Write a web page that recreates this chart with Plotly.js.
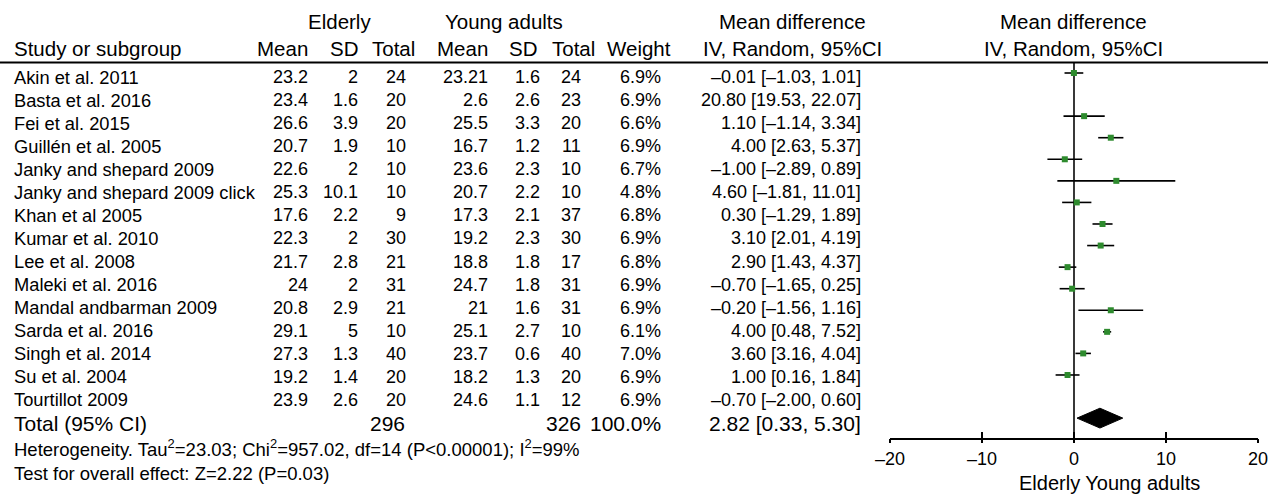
<!DOCTYPE html>
<html><head><meta charset="utf-8">
<script src="https://cdn.plot.ly/plotly-3.0.1.min.js"></script>
<style>html,body{margin:0;padding:0;background:#fff}#chart{width:1268px;height:496px}</style>
</head><body><div id="chart"></div>
<script>
const studies = ["Akin et al. 2011","Basta et al. 2016","Fei et al. 2015","Guillén et al. 2005","Janky and shepard 2009","Janky and shepard 2009 click","Khan et al 2005","Kumar et al. 2010","Lee et al. 2008","Maleki et al. 2016","Mandal andbarman 2009","Sarda et al. 2016","Singh et al. 2014","Su et al. 2004","Tourtillot 2009"];
const eMean = [23.2, 23.4, 26.6, 20.7, 22.6, 25.3, 17.6, 22.3, 21.7, 24, 20.8, 29.1, 27.3, 19.2, 23.9];
const eSD   = [2, 1.6, 3.9, 1.9, 2, 10.1, 2.2, 2, 2.8, 2, 2.9, 5, 1.3, 1.4, 2.6];
const eN    = [24, 20, 20, 10, 10, 10, 9, 30, 21, 31, 21, 10, 40, 20, 20];
const yMean = [23.21, 2.6, 25.5, 16.7, 23.6, 20.7, 17.3, 19.2, 18.8, 24.7, 21, 25.1, 23.7, 18.2, 24.6];
const ySD   = [1.6, 2.6, 3.3, 1.2, 2.3, 2.2, 2.1, 2.3, 1.8, 1.8, 1.6, 2.7, 0.6, 1.3, 1.1];
const yN    = [24, 23, 20, 11, 10, 10, 37, 30, 17, 31, 31, 10, 40, 20, 12];
const weight= [6.9, 6.9, 6.6, 6.9, 6.7, 4.8, 6.8, 6.9, 6.8, 6.9, 6.9, 6.1, 7.0, 6.9, 6.9];
const md    = [-0.01, 20.80, 1.10, 4.00, -1.00, 4.60, 0.30, 3.10, 2.90, -0.70, -0.20, 4.00, 3.60, 1.00, -0.70];
const lo    = [-1.03, 19.53, -1.14, 2.63, -2.89, -1.81, -1.29, 2.01, 1.43, -1.65, -1.56, 0.48, 3.16, 0.16, -2.00];
const hi    = [1.01, 22.07, 3.34, 5.37, 0.89, 11.01, 1.89, 4.19, 4.37, 0.25, 1.16, 7.52, 4.04, 1.84, 0.60];
const totalE = 296, totalY = 326, totalW = 100.0;
const pooledMD = 2.82, pooledLo = 0.33, pooledHi = 5.30;
const xTicks = [-20, -10, 0, 10, 20];
const heterogeneity = "Heterogeneity. Tau<sup>2</sup>=23.03; Chi<sup>2</sup>=957.02, df=14 (P&lt;0.00001); I<sup>2</sup>=99%";
const overallTest = "Test for overall effect: Z=2.22 (P=0.03)";
const xLabel = "Elderly Young adults";

const W = 1268, H = 496;
const FONT = '"Liberation Sans", Arial, Helvetica, sans-serif';
const px = x => x / W, py = y => 1 - y / H;
const dash = v => (v < 0 ? '–' : '') + Math.abs(v).toFixed(2);
const ciText = (m, l, h) => dash(m) + ' [' + dash(l) + ', ' + dash(h) + ']';

// layout constants (pixels)
const TAB_TOP = 77, TAB_STEP = 23.07;
const MARK_TOP = 73, MARK_STEP = 21.57, AXIS_PX = 438, LINE_PX = 62.5;
const X_MIN = -20, X_MAX = 20;

const ann = [];
function T(text, x, y, anchor, size) {
  ann.push({text: text, x: px(x), y: py(y), xref: 'paper', yref: 'paper', xanchor: anchor, yanchor: 'middle',
    showarrow: false, font: {family: FONT, size: size, color: '#000'}});
}
// headers
const HS = 20.5;
T('Elderly', 339, 22, 'center', HS);
T('Young adults', 504, 22, 'center', HS);
T('Mean difference', 792, 22, 'center', HS);
T('Mean difference', 1073, 22, 'center', HS);
T('Study or subgroup', 12, 48, 'left', HS);
T('Mean', 310, 48, 'right', HS);
T('SD', 360, 48, 'right', HS);
T('Total', 417, 48, 'right', HS);
T('Mean', 490, 48, 'right', HS);
T('SD', 539, 48, 'right', HS);
T('Total', 597, 48, 'right', HS);
T('Weight', 673, 48, 'right', HS);
T('IV, Random, 95%CI', 792, 48, 'center', HS);
T('IV, Random, 95%CI', 1073, 48, 'center', HS);
// rows
studies.forEach((s, i) => {
  const y = TAB_TOP + TAB_STEP * i;
  T(s, 12, y, 'left', 18.3);
  T(String(eMean[i]), 310, y, 'right', 18);
  T(String(eSD[i]), 360, y, 'right', 18);
  T(String(eN[i]), 408, y, 'right', 18);
  T(String(yMean[i]), 490, y, 'right', 18);
  T(String(ySD[i]), 542, y, 'right', 18);
  T(String(yN[i]), 583, y, 'right', 18);
  T(weight[i].toFixed(1) + '%', 663, y, 'right', 18);
  T(ciText(md[i], lo[i], hi[i]), 863, y, 'right', 18);
});
const totY = TAB_TOP + TAB_STEP * studies.length;
T('Total (95% CI)', 12, totY, 'left', 21);
T(String(totalE), 407, totY, 'right', 21);
T(String(totalY), 583, totY, 'right', 21);
T(totalW.toFixed(1) + '%', 663, totY, 'right', 21);
T(ciText(pooledMD, pooledLo, pooledHi), 863, totY, 'right', 21);
T(heterogeneity, 12, 448, 'left', 18.5);
T(overallTest, 12, 473, 'left', 18.5);
T(xLabel, 1109, 483, 'center', 20);

// forest marks: only studies whose CI lies within the axis limits
const inRange = studies.map((s, i) => lo[i] >= X_MIN && hi[i] <= X_MAX);
const idx = studies.map((s, i) => i).filter(i => inRange[i]);
const points = {
  type: 'scatter', mode: 'markers', xaxis: 'x', yaxis: 'y',
  x: idx.map(i => md[i]), y: idx,
  marker: {symbol: 'square', size: 6, color: '#2e8b2e'},
  error_x: {type: 'data', symmetric: false, array: idx.map(i => hi[i] - md[i]),
    arrayminus: idx.map(i => md[i] - lo[i]), color: '#000', thickness: 1.6, width: 0},
  hoverinfo: 'skip', showlegend: false, cliponaxis: false
};
const pooledRow = studies.length + 1, half = 0.46;
const diamond = {
  type: 'scatter', mode: 'lines', xaxis: 'x', yaxis: 'y',
  x: [pooledLo, pooledMD, pooledHi, pooledMD, pooledLo],
  y: [pooledRow, pooledRow - half, pooledRow, pooledRow + half, pooledRow],
  fill: 'toself', fillcolor: '#000', line: {color: '#000', width: 1},
  hoverinfo: 'skip', showlegend: false
};
// downward tick stubs via overlay axis
const stub = {type: 'scatter', mode: 'markers', xaxis: 'x2', yaxis: 'y', x: [X_MIN], y: [0],
  marker: {opacity: 0}, hoverinfo: 'skip', showlegend: false};

const domX = [px(890), px(1258)];
const domY = [py(AXIS_PX), 1];
const layout = {
  width: W, height: H, margin: {l: 0, r: 0, t: 0, b: 0},
  paper_bgcolor: '#fff', plot_bgcolor: 'rgba(0,0,0,0)',
  font: {family: FONT, color: '#000'},
  xaxis: {domain: domX, range: [X_MIN, X_MAX], tickvals: xTicks,
    ticktext: xTicks.map(v => (v < 0 ? '–' : '') + Math.abs(v)),
    showline: true, linecolor: '#000', linewidth: 1.6, ticks: 'inside', ticklen: 6, tickwidth: 1.6,
    tickcolor: '#000', tickfont: {size: 18, family: FONT, color: '#000'}, ticklabelstandoff: 4,
    ticklabeloverflow: 'allow',
    showgrid: false, zeroline: false, fixedrange: true},
  xaxis2: {domain: domX, range: [X_MIN, X_MAX], overlaying: 'x', anchor: 'y', side: 'bottom',
    tickvals: xTicks, showticklabels: false, ticks: 'outside', ticklen: 4, tickwidth: 1.6, tickcolor: '#000',
    showline: false, showgrid: false, zeroline: false},
  yaxis: {domain: domY, range: [(AXIS_PX - MARK_TOP) / MARK_STEP, -MARK_TOP / MARK_STEP],
    visible: false, showgrid: false, zeroline: false, fixedrange: true},
  shapes: [
    {type: 'line', xref: 'paper', yref: 'paper', x0: 0, x1: 1, y0: py(LINE_PX), y1: py(LINE_PX),
      line: {color: '#000', width: 1.8}},
    {type: 'line', xref: 'x', yref: 'paper', x0: 0, x1: 0, y0: py(AXIS_PX), y1: py(LINE_PX),
      line: {color: '#222', width: 1.8}, layer: 'below'}
  ],
  annotations: ann
};
Plotly.newPlot('chart', [points, diamond, stub], layout, {staticPlot: true, displayModeBar: false});
</script></body></html>
